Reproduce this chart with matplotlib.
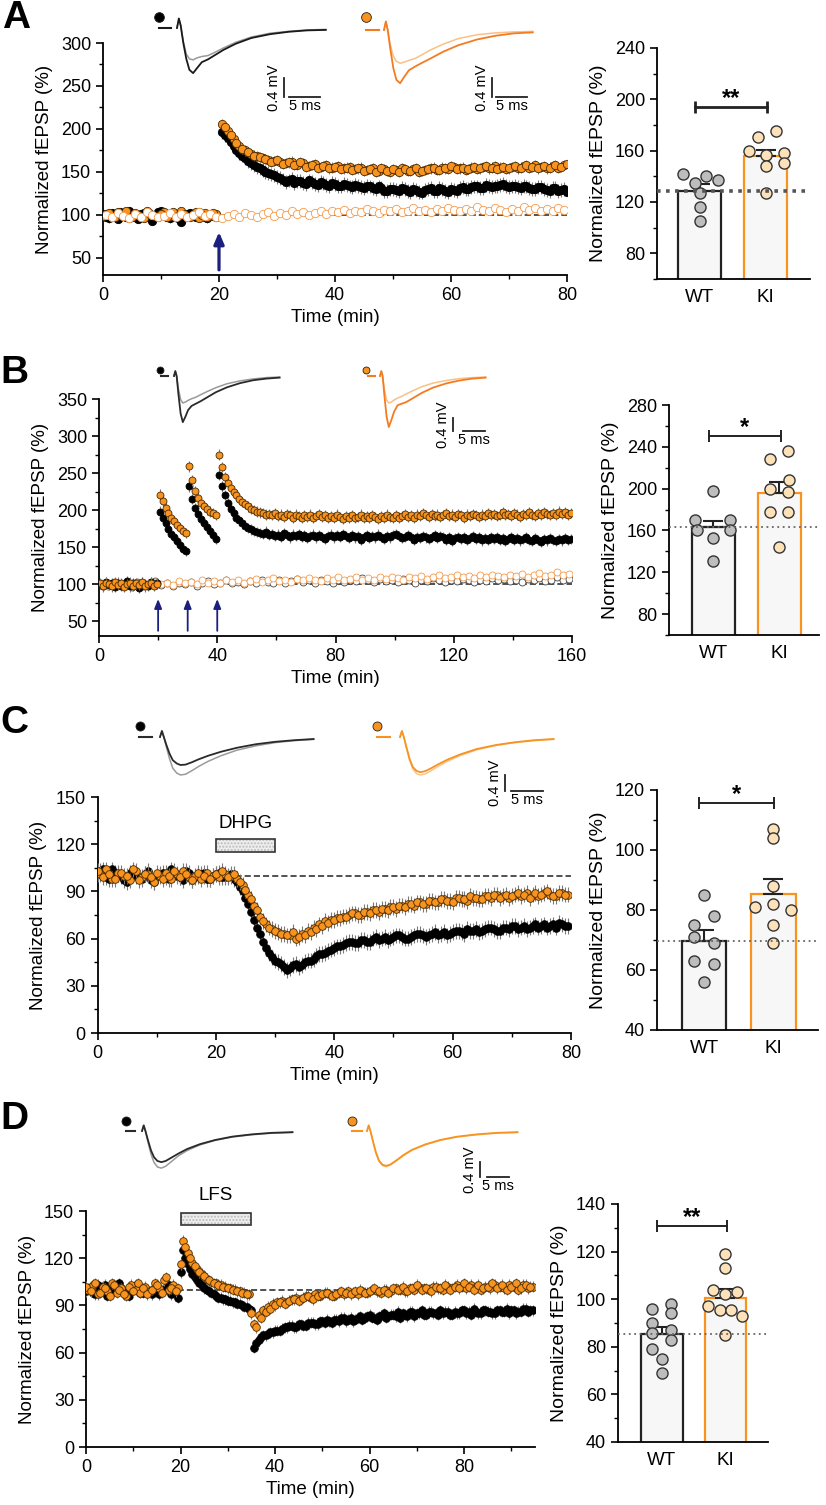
import numpy as np
import matplotlib
matplotlib.use('Agg')
import matplotlib.pyplot as plt
from matplotlib.patches import Rectangle
from matplotlib.ticker import MultipleLocator

plt.rcParams['font.family'] = ['Liberation Sans', 'DejaVu Sans']

W, H = 826, 1505

# ---------------- A: HFS-LTP ----------------
# samples at t = k + 0.5 ...
a_wt_base = [98, 102, 95, 100, 104, 97, 101, 99, 93, 103, 100, 96, 98, 92, 101, 99, 103, 97, 100, 98]
a_wt_post = [196, 190, 180, 172, 166, 160, 156, 152, 149, 146, 143, 138, 142, 139, 137, 140, 136, 138, 135, 137,
             134, 136, 133, 135, 132, 134, 131, 133, 128, 130, 129, 131, 128, 130, 127, 129, 131, 128, 130, 127,
             129, 131, 130, 132, 133, 131, 134, 133, 135, 134, 133, 132, 134, 131, 130, 132, 129, 131, 128, 130]
a_ki_base = [101, 97, 103, 99, 96, 102, 98, 105, 100, 97, 103, 99, 101, 104, 98, 100, 96, 102, 99, 101]
a_ki_post = [206, 198, 188, 180, 175, 171, 168, 166, 164, 163, 161, 160, 162, 158, 160, 157, 159, 156, 158, 155,
             157, 154, 156, 153, 155, 152, 154, 151, 153, 150, 152, 154, 151, 153, 150, 152, 154, 152, 155, 153,
             156, 154, 152, 155, 153, 156, 154, 157, 155, 153, 156, 154, 157, 155, 158, 156, 154, 157, 155, 158]
# ... and at whole minutes (baseline t = 0..19, post t = 21..80)
a_wt_base2 = [101, 96, 99, 103, 98, 100, 95, 102, 97, 99, 104, 98, 101, 96, 100, 102, 98, 101, 96, 99]
a_wt_post2 = [193, 185, 176, 169, 163, 158, 154, 150, 147, 144, 141, 140, 137, 139, 136, 138, 135, 137, 134, 136,
              133, 135, 132, 134, 131, 133, 130, 131, 128, 130, 128, 130, 127, 129, 126, 130, 128, 131, 128, 130,
              128, 132, 130, 133, 131, 135, 132, 134, 136, 132, 134, 131, 133, 130, 132, 130, 128, 131, 129, 127]
a_ki_base2 = [99, 102, 98, 101, 104, 97, 100, 96, 102, 99, 101, 97, 103, 99, 101, 97, 103, 100, 98, 102]
a_ki_post2 = [202, 193, 184, 177, 173, 169, 167, 165, 162, 164, 159, 161, 158, 161, 156, 158, 155, 157, 154, 156,
              153, 155, 152, 154, 151, 153, 150, 154, 151, 153, 150, 153, 151, 154, 151, 153, 155, 152, 154, 157,
              153, 155, 153, 156, 154, 157, 155, 153, 156, 154, 157, 155, 158, 156, 154, 157, 155, 158, 156, 159]
a_ctrl = [100, 97, 102, 99, 96, 101, 98, 103, 100, 97, 99, 102, 98, 101, 97, 100, 103, 99, 101, 98,
          96, 99, 101, 98, 102, 100, 97, 101, 103, 99, 102, 100, 104, 101, 103, 100, 102, 105, 101, 104,
          103, 106, 102, 105, 103, 107, 104, 102, 106, 104, 107, 103, 105, 108, 104, 106, 103, 107, 105, 108,
          106, 104, 107, 105, 109, 106, 104, 108, 106, 103, 107, 105, 109, 106, 108, 105, 107, 104, 108, 106]

# ---------------- B: TBS x3 ----------------
b_wt_base = [100, 97, 103, 99, 101, 96, 102, 98, 100, 104, 97, 101, 99, 95, 102, 100, 98, 103, 99, 101]
b_wt_tbs1 = [198, 190, 182, 175, 168, 163, 158, 153, 148, 145]
b_wt_tbs2 = [232, 215, 203, 195, 188, 182, 177, 172, 166, 161]
b_wt_post = [248, 232, 220, 210, 202, 196, 190, 186, 182, 179, 176, 174, 172, 170, 169, 168, 171, 166, 168, 165,
             167, 164, 169, 166, 163, 167, 165, 168, 164, 166, 162, 165, 167, 163, 166, 164, 161, 165, 167, 163,
             166, 164, 168, 165, 162, 166, 163, 165, 160, 164, 166, 162, 165, 163, 167, 164, 161, 165, 163, 166,
             168, 165, 162, 164, 166, 163, 160, 164, 162, 165, 163, 161, 164, 166, 162, 165, 163, 160, 163, 158,
             162, 164, 161, 163, 160, 162, 165, 161, 163, 159, 162, 160, 163, 161, 164, 160, 162, 158, 161, 163,
             160, 162, 159, 161, 163, 160, 158, 162, 160, 157, 161, 159, 162, 160, 158, 161, 159, 162, 160, 161]
b_ki_base = [101, 98, 102, 100, 97, 103, 99, 101, 96, 100, 102, 98, 101, 99, 103, 97, 100, 102, 98, 100]
b_ki_tbs1 = [221, 212, 203, 196, 190, 185, 180, 176, 172, 169]
b_ki_tbs2 = [259, 240, 226, 217, 210, 205, 201, 198, 196, 193]
b_ki_post = [275, 258, 245, 237, 230, 225, 220, 215, 211, 208, 205, 202, 200, 198, 197, 196, 194, 195, 193, 196,
             192, 194, 191, 195, 193, 190, 194, 192, 189, 193, 191, 194, 190, 192, 195, 191, 193, 189, 192, 190,
             194, 191, 188, 192, 190, 193, 189, 191, 194, 190, 192, 189, 193, 191, 188, 192, 190, 194, 191, 189,
             193, 190, 192, 195, 191, 193, 190, 194, 192, 196, 193, 191, 195, 192, 194, 191, 193, 196, 192, 194,
             191, 195, 193, 190, 194, 192, 195, 193, 191, 194, 192, 196, 193, 195, 192, 194, 197, 193, 195, 192,
             196, 194, 191, 195, 193, 197, 194, 192, 196, 194, 197, 195, 193, 196, 194, 198, 195, 197, 194, 196]
# unstimulated controls, one point every 2 min
b_ctrl_wt = [100, 97, 102, 99, 101, 96, 103, 98, 100, 104, 99, 101, 97, 102, 100, 103, 98, 101, 104, 100,
             102, 105, 101, 103, 100, 104, 102, 106, 103, 101, 105, 102, 104, 107, 103, 105, 102, 106, 104, 101,
             105, 103, 106, 104, 108, 105, 103, 107, 104, 106, 103, 107, 105, 102, 106, 104, 108, 105, 103, 106,
             104, 107, 105, 103, 106, 104, 108, 105, 107, 104, 106, 103, 107, 105, 108, 104, 106, 109, 105, 107]
b_ctrl_ki = [101, 98, 103, 100, 97, 102, 99, 101, 98, 103, 100, 102, 99, 104, 101, 103, 100, 105, 102, 104,
             101, 105, 103, 106, 102, 104, 107, 103, 105, 108, 104, 106, 103, 107, 105, 108, 106, 104, 108, 106,
             109, 105, 107, 110, 106, 108, 105, 109, 107, 110, 108, 106, 110, 108, 111, 107, 109, 112, 108, 110,
             113, 109, 111, 108, 112, 110, 113, 111, 109, 113, 111, 114, 110, 112, 115, 111, 113, 116, 112, 114]

# ---------------- C: DHPG-LTD (t = k + 0.5 and t = k) ----------------
c_wt = [103, 99, 104, 101, 97, 102, 100, 98, 103, 96, 101, 99, 104, 100, 97, 102, 99, 101, 98, 100, 102, 99, 101,
        96, 90, 82, 72, 63, 54, 48, 45, 42, 41, 44, 43, 46, 47, 50, 51, 53, 55, 56, 58,
        57, 59, 58, 60, 59, 61, 60, 62, 61, 60, 62, 63, 61, 63, 62, 64, 63, 65, 64, 66,
        65, 64, 66, 67, 65, 67, 66, 68, 67, 66, 68, 67, 69, 68, 67, 69, 68]
c_ki = [101, 104, 98, 102, 100, 97, 103, 99, 101, 96, 100, 102, 98, 101, 103, 99, 100, 98, 102, 100, 99, 101, 100,
        98, 94, 88, 81, 74, 69, 66, 64, 63, 62, 60, 63, 65, 67, 69, 71, 72, 73, 74, 75,
        76, 75, 77, 78, 77, 79, 80, 79, 81, 82, 81, 83, 82, 84, 83, 85, 84, 86, 85, 84,
        86, 85, 87, 86, 88, 87, 86, 88, 87, 89, 88, 87, 89, 88, 87, 89, 88]
c_wt2 = [101, 104, 98, 102, 100, 96, 103, 99, 101, 97, 100, 102, 98, 101, 99, 103, 97, 100, 102, 98, 101, 99, 100, 98,
         93, 86, 77, 67, 58, 51, 46, 44, 40, 43, 42, 45, 46, 49, 50, 52, 54, 55, 57, 58,
         57, 59, 58, 61, 60, 59, 61, 62, 60, 61, 63, 62, 62, 64, 63, 62, 64, 65, 63, 65,
         66, 65, 67, 66, 65, 67, 68, 66, 68, 67, 69, 68, 67, 69, 70, 68]
c_ki2 = [103, 99, 101, 98, 102, 100, 104, 97, 101, 99, 102, 98, 100, 103, 99, 101, 97, 102, 100, 98, 101, 103, 99, 101,
         96, 91, 85, 78, 71, 67, 65, 63, 62, 64, 61, 62, 64, 66, 68, 70, 72, 73, 74, 76,
         75, 77, 76, 78, 79, 78, 80, 81, 80, 82, 83, 82, 84, 83, 85, 84, 83, 86, 85, 87,
         86, 85, 87, 88, 86, 88, 87, 89, 88, 86, 89, 88, 90, 87, 89, 88]

# ---------------- D: LFS-LTD (t = k + 0.5 and t = k) ----------------
d_wt = [101, 98, 103, 100, 96, 102, 99, 101, 97, 100, 103, 98, 101, 99, 102, 97, 100, 103, 98, 95,
        125, 116, 110, 106, 103, 100, 98, 96, 95, 94, 93, 92, 91, 89, 88,
        63, 68, 71, 72, 73, 74, 75, 76, 77, 76, 78, 77, 79, 78, 80, 79, 80, 81, 80, 82,
        81, 80, 82, 81, 83, 82, 81, 83, 82, 84, 83, 82, 84, 86, 83, 85, 84, 86, 85, 84,
        85, 86, 84, 85, 87, 85, 84, 86, 85, 87, 86, 85, 87, 86, 85, 87, 86, 88, 86, 87]
d_ki = [100, 103, 97, 102, 99, 104, 98, 101, 96, 103, 100, 98, 102, 99, 104, 101, 106, 100, 103, 101,
        131, 123, 117, 113, 110, 107, 105, 104, 103, 102, 101, 100, 99, 98, 97,
        78, 84, 87, 89, 91, 92, 93, 92, 94, 95, 94, 96, 95, 97, 96, 98, 97, 96, 98, 97,
        99, 98, 97, 99, 98, 100, 99, 98, 100, 99, 101, 100, 99, 101, 100, 102, 101, 100, 102, 101,
        100, 102, 101, 103, 102, 101, 103, 102, 100, 102, 101, 103, 102, 101, 103, 102, 100, 103, 101, 102]
d_wt2 = [99, 102, 97, 101, 103, 98, 100, 104, 99, 96, 101, 103, 98, 100, 97, 102, 99, 101, 97, 100,
         111, 120, 113, 108, 104, 101, 99, 97, 95, 94, 93, 92, 91, 90, 89, 87,
         66, 70, 71, 73, 74, 74, 76, 77, 76, 78, 77, 79, 79, 78, 80, 81, 79, 81, 82, 80,
         82, 81, 83, 82, 84, 82, 83, 85, 83, 84, 86, 85, 83, 86, 85, 87, 84, 86, 85, 87,
         86, 84, 86, 85, 87, 86, 88, 85, 87, 86, 85, 87, 86, 88, 87, 85, 86, 88, 87]
d_ki2 = [102, 99, 104, 98, 101, 96, 103, 100, 97, 102, 99, 104, 101, 97, 100, 103, 98, 108, 101, 99,
         116, 127, 120, 115, 111, 109, 106, 104, 103, 102, 101, 100, 99, 98, 97, 85,
         76, 82, 86, 88, 90, 92, 91, 93, 94, 93, 95, 96, 94, 96, 97, 98, 96, 97, 99, 98,
         97, 99, 100, 98, 99, 101, 99, 100, 98, 101, 100, 102, 99, 101, 103, 100, 101, 99, 102, 101,
         103, 100, 102, 101, 104, 102, 100, 103, 101, 102, 104, 101, 103, 100, 102, 104, 101, 103, 102]

# ---------------- summary bars (individual slices, bar mean, SEM) ----------------
a_pts_wt = [142, 135, 140, 137, 127, 116, 105]
a_pts_ki = [160, 171, 175, 157, 158, 150, 148, 127]
a_mean, a_sem = [128.5, 155.5], [5.5, 5.0]
b_pts_wt = [198, 170, 170, 160, 160, 153, 131]
b_pts_ki = [228, 236, 200, 208, 197, 178, 178, 144]
b_mean, b_sem = [163, 195.5], [6.4, 10.5]
c_pts_wt = [85, 75, 78, 71, 69, 63, 62, 56]
c_pts_ki = [107, 104, 88, 81, 82, 80, 75, 69]
c_mean, c_sem = [69.8, 85.4], [3.5, 4.9]
d_pts_wt = [96, 98, 94, 90, 86, 87, 83, 79, 75, 69]
d_pts_ki = [119, 113, 104, 103, 102, 97, 95.5, 95.5, 93, 85]
d_mean, d_sem = [85.4, 100.6], [3.1, 3.6]
groups = ['WT', 'KI']

# horizontal scatter of the dots (layout only)
a_jit = ([-0.26, -0.08, 0.10, 0.28, 0, 0, 0], [-0.26, -0.12, 0.15, 0, 0.27, 0.27, 0, 0])
b_jit = ([0, -0.28, 0.26, -0.25, 0.26, 0, 0], [-0.14, 0.13, -0.14, 0.14, 0.13, -0.14, 0.13, 0])
c_jit = ([0, -0.15, 0.15, -0.15, 0.15, -0.15, 0.15, 0], [0, 0, 0, -0.26, 0, 0.26, 0, 0])
d_jit = ([-0.16, 0.14, 0.14, -0.16, -0.16, 0.14, 0.14, -0.16, 0, 0], [0, 0, -0.2, 0.18, 0, -0.28, -0.09, 0.08, 0.26, 0])

# ---------------- example fEPSP traces (mV) ----------------
trace_t = [0, 0.3, 0.6, 1.0, 1.5, 2.0, 2.6, 3.2, 4.0, 5.0, 6.0, 7.5, 9.5, 12, 15, 18, 21, 24]
trace_t_d = [0, 0.4, 0.8, 1.4, 2.1, 2.8, 3.6, 4.5, 5.5, 7, 8.5, 10.5, 13.5, 17, 21, 25.5, 30, 35]
a_tr_wt_pre = [0, 0.2, 0.05, -0.28, -0.55, -0.65, -0.67, -0.63, -0.6, -0.58, -0.52, -0.42, -0.3, -0.19, -0.11, -0.07, -0.04, -0.03]
a_tr_wt_post = [0, 0.2, 0.05, -0.3, -0.65, -0.88, -0.95, -0.85, -0.72, -0.66, -0.58, -0.46, -0.33, -0.21, -0.13, -0.08, -0.05, -0.04]
a_tr_ki_pre = [0, 0.18, 0.0, -0.3, -0.55, -0.66, -0.7, -0.68, -0.64, -0.6, -0.53, -0.42, -0.3, -0.18, -0.1, -0.06, -0.04, -0.03]
a_tr_ki_post = [0, 0.18, 0.0, -0.38, -0.8, -1.05, -1.12, -1.0, -0.85, -0.77, -0.7, -0.6, -0.46, -0.32, -0.2, -0.12, -0.07, -0.05]
b_tr_wt_pre = [0, 0.15, 0.0, -0.4, -0.72, -0.83, -0.8, -0.75, -0.7, -0.65, -0.58, -0.48, -0.36, -0.24, -0.15, -0.09, -0.05, -0.03]
b_tr_wt_post = [0, 0.15, 0.0, -0.55, -1.15, -1.42, -1.25, -1.05, -0.92, -0.85, -0.78, -0.66, -0.5, -0.35, -0.22, -0.13, -0.08, -0.05]
b_tr_ki_pre = [0, 0.15, 0.0, -0.42, -0.74, -0.83, -0.8, -0.74, -0.68, -0.62, -0.55, -0.45, -0.33, -0.22, -0.14, -0.08, -0.05, -0.03]
b_tr_ki_post = [0, 0.15, 0.0, -0.6, -1.25, -1.57, -1.35, -1.1, -0.9, -0.85, -0.8, -0.68, -0.52, -0.36, -0.23, -0.14, -0.08, -0.05]
c_tr_wt_pre = [0, 0.15, 0.0, -0.25, -0.55, -0.78, -0.9, -0.95, -0.93, -0.84, -0.74, -0.61, -0.47, -0.33, -0.22, -0.14, -0.09, -0.06]
c_tr_wt_post = [0, 0.15, 0.0, -0.2, -0.42, -0.58, -0.66, -0.7, -0.69, -0.63, -0.56, -0.47, -0.37, -0.27, -0.18, -0.12, -0.08, -0.05]
c_tr_ki_pre = [0, 0.15, 0.0, -0.27, -0.58, -0.8, -0.92, -0.95, -0.92, -0.83, -0.73, -0.6, -0.46, -0.32, -0.21, -0.14, -0.09, -0.06]
c_tr_ki_post = [0, 0.15, 0.0, -0.25, -0.55, -0.75, -0.85, -0.88, -0.85, -0.77, -0.68, -0.56, -0.43, -0.3, -0.2, -0.13, -0.08, -0.05]
d_tr_wt_pre = [0, 0.15, 0.0, -0.3, -0.62, -0.84, -0.96, -0.99, -0.94, -0.8, -0.66, -0.52, -0.37, -0.25, -0.16, -0.1, -0.06, -0.04]
d_tr_wt_post = [0, 0.15, 0.0, -0.25, -0.52, -0.7, -0.8, -0.83, -0.8, -0.7, -0.6, -0.48, -0.35, -0.24, -0.15, -0.09, -0.05, -0.03]
d_tr_ki_pre = [0, 0.15, 0.0, -0.29, -0.6, -0.81, -0.92, -0.95, -0.9, -0.78, -0.65, -0.51, -0.37, -0.25, -0.16, -0.1, -0.06, -0.04]
d_tr_ki_post = [0, 0.15, 0.0, -0.28, -0.58, -0.79, -0.9, -0.93, -0.89, -0.77, -0.64, -0.5, -0.36, -0.24, -0.15, -0.09, -0.05, -0.03]

ORANGE = '#f7931e'
EDGE_O = '#4a2a00'
NAVY = '#1b1f7d'
fig = plt.figure(figsize=(W / 100, H / 100), dpi=100)


def px_axes(l, t, r, b):
    return fig.add_axes([l / W, 1 - b / H, (r - l) / W, (b - t) / H])


def style(ax):
    for s in ('top', 'right'):
        ax.spines[s].set_visible(False)
    for s in ('left', 'bottom'):
        ax.spines[s].set_linewidth(1.3)
    ax.tick_params(which='major', length=5, width=1.2, labelsize=13, direction='out')
    ax.tick_params(which='minor', length=3, width=1.0, direction='out')


def times(start, vals, step=1.0):
    return start + step * np.arange(len(vals))


def dots(ax, t, y, sem, face, edge, ms, z, ecol='#7a7a7a'):
    ax.errorbar(t, y, yerr=sem, fmt='o', ms=ms, mfc=face, mec=edge, mew=0.6,
                ecolor=ecol, elinewidth=0.8, capsize=0, zorder=z)


def main_axes(rect, xlim, ylim, xmaj, xmin, ymaj, ymin):
    ax = px_axes(*rect)
    style(ax)
    ax.set_xlim(*xlim)
    ax.set_ylim(*ylim)
    ax.xaxis.set_major_locator(MultipleLocator(xmaj))
    ax.xaxis.set_minor_locator(MultipleLocator(xmin))
    ax.yaxis.set_major_locator(MultipleLocator(ymaj))
    ax.yaxis.set_minor_locator(MultipleLocator(ymin))
    ax.set_xlabel('Time (min)', fontsize=13.5, labelpad=4)
    ax.set_ylabel('Normalized fEPSP (%)', fontsize=13.5, labelpad=6)
    ax.axhline(100, color='#222222', lw=1.1, ls=(0, (4, 2)), zorder=1)
    return ax


def bar_axes(rect, xlim, ylim, ymaj, ymin, pts, jit, mean, sem, sig_y, stars, thick=False):
    ax = px_axes(*rect)
    style(ax)
    ax.set_xlim(*xlim)
    ax.set_ylim(*ylim)
    ax.yaxis.set_major_locator(MultipleLocator(ymaj))
    ax.yaxis.set_minor_locator(MultipleLocator(ymin))
    ax.set_xticks([0, 1])
    ax.set_xticklabels(groups, fontsize=13.5)
    ax.tick_params(axis='x', length=0, pad=7)
    ax.set_ylabel('Normalized fEPSP (%)', fontsize=14, labelpad=6)
    edges = ['#222222', ORANGE]
    faces = ['#bdbdbd', '#fde1b8']
    ax.bar([0, 1], mean, width=0.65, color='#f7f7f7', edgecolor=edges, linewidth=1.6, zorder=2)
    ax.errorbar([0, 1], mean, yerr=[[0, 0], sem], fmt='none', ecolor='#222222', elinewidth=1.5,
                capsize=7, capthick=1.5, zorder=3)
    for i in range(2):
        ax.plot(i + np.array(jit[i]), pts[i], 'o', ms=8, mfc=faces[i], mec='#333333', mew=1.0,
                zorder=4, clip_on=False)
    if thick:
        ax.axhline(mean[0], color='#555555', lw=2.6, ls=(0, (1, 1.5)), zorder=5)
    else:
        ax.axhline(mean[0], color='#666666', lw=1.3, ls=(0, (1, 2)), zorder=5)
    lw = 2.0 if thick else 1.4
    ax.plot([-0.07, 1.02], [sig_y, sig_y], color='#222222', lw=lw, clip_on=False)
    ax.plot([-0.07, 1.02], [sig_y, sig_y], '|', color='#222222', ms=8, mew=lw, clip_on=False)
    ax.annotate(stars, (0.475, sig_y), xytext=(0, 1.5), textcoords='offset points', ha='center',
                va='baseline', fontsize=17, fontweight='bold', annotation_clip=False)
    return ax


def trace_axes(x0, y0, px_ms, px_mv, t, pre, post, c_pre, c_post, dot, dot_face, dash):
    ax = px_axes(x0 - 40, y0 - 30, x0 + 200, y0 + 80)
    ax.set_xlim(-40 / px_ms, 200 / px_ms)
    ax.set_ylim(-80 / px_mv, 30 / px_mv)
    ax.axis('off')

    def fx(px):
        return (px - x0) / px_ms

    def fy(py):
        return (y0 - py) / px_mv

    ax.plot(t, pre, color=c_pre, lw=1.1)
    ax.plot(t, post, color=c_post, lw=1.3)
    ax.plot([fx(dash[0]), fx(dash[1])], [fy(dash[2])] * 2, color=c_post, lw=1.5, clip_on=False)
    ax.plot(fx(dot[0]), fy(dot[1]), 'o', ms=dot[2], mfc=dot_face, mec='#222222', mew=0.6, clip_on=False)
    return ax, fx, fy


def scale_bar(ax, fx, fy, vx, hy, gap, fs=10.5):
    ax.plot([fx(vx)] * 2, [fy(hy), fy(hy) + 0.4], color='#222222', lw=1.3, clip_on=False)
    x1 = fx(vx + gap)
    ax.plot([x1, x1 + 5], [fy(hy)] * 2, color='#222222', lw=1.3, clip_on=False)
    ax.text(fx(vx - 3), fy(hy) + 0.2, '0.4 mV', rotation=90, ha='right', va='center', fontsize=fs)
    ax.text(x1 + 2.5, fy(hy + 2), '5 ms', ha='center', va='top', fontsize=fs)


def letter(x, y, s):
    fig.text(x / W, 1 - y / H, s, fontsize=28, fontweight='bold', ha='left', va='top')


# ======================= panel A =======================
ax = main_axes((103, 43, 567, 275), (0, 80), (30, 300), 20, 10, 50, 25)
dots(ax, times(0.5, a_wt_base), a_wt_base, 5, 'black', 'black', 6, 3)
dots(ax, times(0, a_wt_base2), a_wt_base2, 5, 'black', 'black', 6, 3)
dots(ax, times(20.5, a_wt_post), a_wt_post, 8, 'black', 'black', 6, 3)
dots(ax, times(21, a_wt_post2), a_wt_post2, 8, 'black', 'black', 6, 3)
dots(ax, times(0.5, a_ki_base), a_ki_base, 4, ORANGE, EDGE_O, 6, 4)
dots(ax, times(0, a_ki_base2), a_ki_base2, 4, ORANGE, EDGE_O, 6, 4)
dots(ax, times(20.5, a_ki_post), a_ki_post, 6, ORANGE, EDGE_O, 6, 4)
dots(ax, times(21, a_ki_post2), a_ki_post2, 6, ORANGE, EDGE_O, 6, 4)
dots(ax, times(0.5, a_ctrl), a_ctrl, 3, 'white', '#f59a4a', 6, 5, ecol='#f8b07a')
ax.annotate('', xy=(20, 80), xytext=(20, 36),
            arrowprops=dict(arrowstyle='-|>,head_width=0.3,head_length=0.7', lw=2.3, color=NAVY,
                            shrinkA=0, shrinkB=0), annotation_clip=False)
bar_axes((657, 48, 810, 279), (-0.65, 1.67), (60, 240), 40, 20, (a_pts_wt, a_pts_ki), a_jit,
         a_mean, a_sem, 194, '**', thick=True)
tax, fx, fy = trace_axes(177, 28, 6.2, 47.5, trace_t, a_tr_wt_pre, a_tr_wt_post, '#9a9a9a', '#1a1a1a',
                         (159, 17, 7), 'black', (159, 171, 28))
scale_bar(tax, fx, fy, 284, 97, 5)
tax, fx, fy = trace_axes(384, 30, 6.2, 47.5, trace_t, a_tr_ki_pre, a_tr_ki_post, '#fbbf88', '#f47b20',
                         (366, 17, 7), ORANGE, (366, 379, 30))
scale_bar(tax, fx, fy, 492, 97, 4)
letter(2, 0, 'A')

# ======================= panel B =======================
ax = main_axes((99, 399, 572, 636), (0, 160), (30, 350), 40, 20, 50, 25)
dots(ax, times(1, b_ctrl_wt, 2), b_ctrl_wt, 4, 'white', '#444444', 5, 2)
dots(ax, times(1, b_ctrl_ki, 2), b_ctrl_ki, 4, 'white', '#f59a4a', 5, 3, ecol='#f8b07a')
for start, vals in ((0.5, b_wt_base), (20.5, b_wt_tbs1), (30.5, b_wt_tbs2), (40.5, b_wt_post)):
    dots(ax, times(start, vals), vals, 7, 'black', 'black', 5, 4)
for start, vals in ((0.5, b_ki_base), (20.5, b_ki_tbs1), (30.5, b_ki_tbs2), (40.5, b_ki_post)):
    dots(ax, times(start, vals), vals, 7, ORANGE, EDGE_O, 5, 5)
for tt in (20, 30, 40):
    ax.annotate('', xy=(tt, 80), xytext=(tt, 37),
                arrowprops=dict(arrowstyle='-|>,head_width=0.22,head_length=0.55', lw=1.3, color=NAVY,
                                shrinkA=0, shrinkB=0), annotation_clip=False)
bar_axes((669, 405, 819, 635), (-0.67, 1.6), (60, 280), 40, 20, (b_pts_wt, b_pts_ki), b_jit,
         b_mean, b_sem, 250, '*')
trace_axes(174, 376, 4.4, 32.5, trace_t, b_tr_wt_pre, b_tr_wt_post, '#9a9a9a', '#2a2a2a',
           (160, 370, 5), 'black', (161, 168, 376))
tax, fx, fy = trace_axes(380, 376, 4.4, 32.5, trace_t, b_tr_ki_pre, b_tr_ki_post, '#fbbf88', '#f47b20',
                         (366, 370, 5), ORANGE, (368, 375, 376))
scale_bar(tax, fx, fy, 453, 431, 10)
letter(0, 355, 'B')

# ======================= panel C =======================
ax = main_axes((97.5, 797, 571, 1033), (0, 80), (0, 150), 20, 10, 30, 15)
dots(ax, times(0.5, c_wt), c_wt, 5, 'black', 'black', 5.5, 3)
dots(ax, times(0, c_wt2), c_wt2, 5, 'black', 'black', 5.5, 3)
dots(ax, times(0.5, c_ki), c_ki, 5, ORANGE, EDGE_O, 5.5, 4)
dots(ax, times(0, c_ki2), c_ki2, 5, ORANGE, EDGE_O, 5.5, 4)
ax.add_patch(Rectangle((20, 115), 10, 8, facecolor='#eeeeee', edgecolor='#bbbbbb', hatch='.....', lw=0, zorder=5))
ax.add_patch(Rectangle((20, 115), 10, 8, facecolor='none', edgecolor='#333333', lw=1.2, zorder=6))
ax.text(25, 133, 'DHPG', ha='center', va='center', fontsize=13.5)
bar_axes((657, 790, 818, 1030), (-0.68, 1.65), (40, 120), 20, 10, (c_pts_wt, c_pts_ki), c_jit,
         c_mean, c_sem, 115.7, '*')
trace_axes(160, 737, 6.4, 40, trace_t, c_tr_wt_pre, c_tr_wt_post, '#9a9a9a', '#2a2a2a',
           (140, 726, 6.5), 'black', (139, 152, 737))
tax, fx, fy = trace_axes(400, 737, 6.4, 40, trace_t, c_tr_ki_pre, c_tr_ki_post, '#fcc48c', '#f7931e',
                         (377, 726, 6.5), ORANGE, (377, 390, 737))
scale_bar(tax, fx, fy, 505, 791, 6)
letter(0, 705, 'C')

# ======================= panel D =======================
ax = main_axes((86, 1211, 535, 1447), (0, 95), (0, 150), 20, 10, 30, 15)
dots(ax, times(0.5, d_wt), d_wt, 3.5, 'black', 'black', 5.5, 3)
dots(ax, times(0, d_wt2), d_wt2, 3.5, 'black', 'black', 5.5, 3)
dots(ax, times(0.5, d_ki), d_ki, 3.5, ORANGE, EDGE_O, 5.5, 4)
dots(ax, times(0, d_ki2), d_ki2, 3.5, ORANGE, EDGE_O, 5.5, 4)
ax.add_patch(Rectangle((20, 141), 15, 8, facecolor='#eeeeee', edgecolor='#bbbbbb', hatch='.....', lw=0,
                       zorder=5, clip_on=False))
ax.add_patch(Rectangle((20, 141), 15, 8, facecolor='none', edgecolor='#333333', lw=1.2, zorder=6, clip_on=False))
ax.text(27.5, 160, 'LFS', ha='center', va='center', fontsize=13.5, clip_on=False)
bar_axes((618, 1204, 768, 1442), (-0.69, 1.67), (40, 140), 20, 10, (d_pts_wt, d_pts_ki), d_jit,
         d_mean, d_sem, 130.8, '**')
trace_axes(142, 1131, 4.3, 37.5, trace_t_d, d_tr_wt_pre, d_tr_wt_post, '#9a9a9a', '#2a2a2a',
           (126, 1121, 6.5), 'black', (126, 135, 1131))
tax, fx, fy = trace_axes(367, 1131, 4.3, 37.5, trace_t_d, d_tr_ki_pre, d_tr_ki_post, '#fcc48c', '#f7931e',
                         (352, 1121, 6.5), ORANGE, (352, 362, 1131))
scale_bar(tax, fx, fy, 480, 1177, 7)
letter(0, 1101, 'D')

fig.savefig('out.png', dpi=100)
plt.close(fig)
